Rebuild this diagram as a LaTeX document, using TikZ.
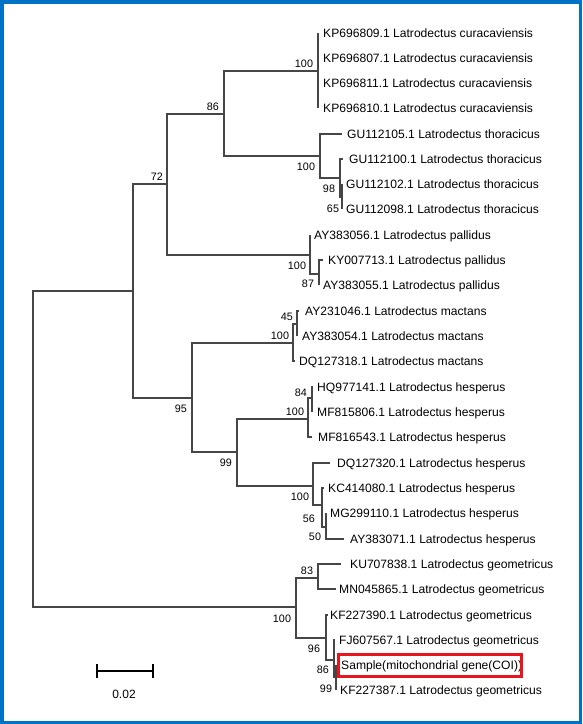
\documentclass[tikz,border=0pt]{standalone}
\usepackage{fontspec}
\setmainfont{Liberation Sans}
\definecolor{frameblue}{RGB}{0,114,198}
\definecolor{boxred}{RGB}{232,20,30}
\definecolor{branchgray}{RGB}{70,70,70}
\begin{document}
\begin{tikzpicture}[x=1pt,y=-1pt,
  br/.style={draw=branchgray,line width=1.1pt},
  leaf/.style={anchor=base west,inner sep=0pt,yshift=-4.3pt,font=\fontsize{12.1}{14}\selectfont,text=black},
  bs/.style={anchor=center,inner sep=0pt,font=\fontsize{10.8}{12}\selectfont,text=black}]
\useasboundingbox (0,0) rectangle (582,724);
\fill[white] (0,0) rectangle (582,724);
\draw[frameblue,line width=3.5pt] (1.75,1.75) rectangle (580.25,722.25);

% internal nodes
\coordinate (root) at (33,449);
\coordinate (nA) at (133,291);
\coordinate (n72) at (167,184);
\coordinate (n86) at (224,114);
\coordinate (nCur) at (318,71);
\coordinate (nThor) at (320,156);
\coordinate (n98) at (340,178);
\coordinate (n65) at (342,197);
\coordinate (nPal) at (310,255);
\coordinate (n87) at (319,274);
\coordinate (n95) at (192,398);
\coordinate (nMac) at (293,343);
\coordinate (n45) at (297,324);
\coordinate (n99) at (237,452);
\coordinate (nH1) at (308,419);
\coordinate (n84) at (312,398);
\coordinate (nH2) at (313,486);
\coordinate (n56) at (322,505);
\coordinate (n50) at (326,527);
\coordinate (nGeo) at (296,607);
\coordinate (n83) at (318,578);
\coordinate (n96) at (326,638);
\coordinate (n86b) at (334,660);
\coordinate (n99b) at (336,677);

% tips
\coordinate (t1) at (318,33);
\coordinate (t2) at (318,58);
\coordinate (t3) at (318,83);
\coordinate (t4) at (318,108);
\coordinate (t5) at (342,134);
\coordinate (t6) at (343,159);
\coordinate (t7) at (342,184);
\coordinate (t8) at (342,209);
\coordinate (t9) at (310,235);
\coordinate (t10) at (323,260);
\coordinate (t11) at (319,285);
\coordinate (t12) at (299,311);
\coordinate (t13) at (297,336);
\coordinate (t14) at (295,361);
\coordinate (t15) at (313,387);
\coordinate (t16) at (312,412);
\coordinate (t17) at (312,437);
\coordinate (t18) at (330,463);
\coordinate (t19) at (324,488);
\coordinate (t20) at (326,513);
\coordinate (t21) at (344,539);
\coordinate (t22) at (341,564);
\coordinate (t23) at (336,589);
\coordinate (t24) at (328,615);
\coordinate (t25) at (335,640);
\coordinate (t26) at (336,665);
\coordinate (t27) at (336,690);

% leaf labels
\node[leaf] (l1) at (323,33) {KP696809.1 Latrodectus curacaviensis};
\node[leaf] (l2) at (323,58) {KP696807.1 Latrodectus curacaviensis};
\node[leaf] (l3) at (323,83) {KP696811.1 Latrodectus curacaviensis};
\node[leaf] (l4) at (323,108) {KP696810.1 Latrodectus curacaviensis};
\node[leaf] (l5) at (347,134) {GU112105.1 Latrodectus thoracicus};
\node[leaf] (l6) at (349,159) {GU112100.1 Latrodectus thoracicus};
\node[leaf] (l7) at (346,184) {GU112102.1 Latrodectus thoracicus};
\node[leaf] (l8) at (346,209) {GU112098.1 Latrodectus thoracicus};
\node[leaf] (l9) at (314,235) {AY383056.1 Latrodectus pallidus};
\node[leaf] (l10) at (328,260) {KY007713.1 Latrodectus pallidus};
\node[leaf] (l11) at (323,285) {AY383055.1 Latrodectus pallidus};
\node[leaf] (l12) at (305,311) {AY231046.1 Latrodectus mactans};
\node[leaf] (l13) at (302,336) {AY383054.1 Latrodectus mactans};
\node[leaf] (l14) at (299,361) {DQ127318.1 Latrodectus mactans};
\node[leaf] (l15) at (317,387) {HQ977141.1 Latrodectus hesperus};
\node[leaf] (l16) at (317,412) {MF815806.1 Latrodectus hesperus};
\node[leaf] (l17) at (318,437) {MF816543.1 Latrodectus hesperus};
\node[leaf] (l18) at (337,463) {DQ127320.1 Latrodectus hesperus};
\node[leaf] (l19) at (328,488) {KC414080.1 Latrodectus hesperus};
\node[leaf] (l20) at (330,513) {MG299110.1 Latrodectus hesperus};
\node[leaf] (l21) at (350,539) {AY383071.1 Latrodectus hesperus};
\node[leaf] (l22) at (350,564) {KU707838.1 Latrodectus geometricus};
\node[leaf] (l23) at (339,589) {MN045865.1 Latrodectus geometricus};
\node[leaf] (l24) at (330,615) {KF227390.1 Latrodectus geometricus};
\node[leaf] (l25) at (339,640) {FJ607567.1 Latrodectus geometricus};
\node[leaf] (l26) at (341,665) {Sample(mitochondrial gene(COI))};
\node[leaf] (l27) at (340,690) {KF227387.1 Latrodectus geometricus};
\node[draw=boxred,line width=2.8pt,minimum width=183pt,minimum height=22.5pt,inner sep=0pt] (hl) at (430,665.5) {};

% branches
\path[br] (root) |- (nA) (root) |- (nGeo);
\path[br] (nA) |- (n72) (nA) |- (n95);
\path[br] (n72) |- (n86) (n72) |- (nPal);
\path[br] (n86) |- (nCur) (n86) |- (nThor);
\path[br] (nCur) |- (t1) (nCur) |- (t2) (nCur) |- (t3) (nCur) |- (t4);
\path[br] (nThor) |- (t5) (nThor) |- (n98);
\path[br] (n98) |- (t6) (n98) |- (n65);
\path[br] (n65) |- (t7) (n65) |- (t8);
\path[br] (nPal) |- (t9) (nPal) |- (n87);
\path[br] (n87) |- (t10) (n87) |- (t11);
\path[br] (n95) |- (nMac) (n95) |- (n99);
\path[br] (nMac) |- (n45) (nMac) |- (t14);
\path[br] (n45) |- (t12) (n45) |- (t13);
\path[br] (n99) |- (nH1) (n99) |- (nH2);
\path[br] (nH1) |- (n84) (nH1) |- (t17);
\path[br] (n84) |- (t15) (n84) |- (t16);
\path[br] (nH2) |- (t18) (nH2) |- (n56);
\path[br] (n56) |- (t19) (n56) |- (n50);
\path[br] (n50) |- (t20) (n50) |- (t21);
\path[br] (nGeo) |- (n83) (nGeo) |- (n96);
\path[br] (n83) |- (t22) (n83) |- (t23);
\path[br] (n96) |- (t24) (n96) |- (n86b);
\path[br] (n86b) |- (t25) (n86b) |- (n99b);
\path[br] (n99b) |- (t26) (n99b) |- (t27);

% bootstrap values
\node[bs] (b72) at (157,177) {72};
\node[bs] (b86) at (213,107) {86};
\node[bs] (bCur) at (304,64) {100};
\node[bs] (bThor) at (306,167) {100};
\node[bs] (b98) at (329,189) {98};
\node[bs] (b65) at (333,209) {65};
\node[bs] (bPal) at (297,266) {100};
\node[bs] (b87) at (308,284) {87};
\node[bs] (b95) at (181,409) {95};
\node[bs] (bMac) at (280,336) {100};
\node[bs] (b45) at (287,317) {45};
\node[bs] (b99) at (226,463) {99};
\node[bs] (bH1) at (295,412) {100};
\node[bs] (b84) at (301,393) {84};
\node[bs] (bH2) at (300,497) {100};
\node[bs] (b56) at (309,519) {56};
\node[bs] (b50) at (315,537) {50};
\node[bs] (bGeo) at (282,619) {100};
\node[bs] (b83) at (307,571) {83};
\node[bs] (b96) at (314,649) {96};
\node[bs] (b86b) at (323,670) {86};
\node[bs] (b99b) at (326,689) {99};

% scale bar
\coordinate (sb1) at (97,671);
\coordinate (sb2) at (153,671);
\draw[line width=2.8pt] (sb1) -- (sb2);
\draw[line width=2.8pt] ([yshift=7pt]sb1) -- ([yshift=-7pt]sb1);
\draw[line width=2.8pt] ([yshift=7pt]sb2) -- ([yshift=-7pt]sb2);
\node[anchor=center,inner sep=0pt,font=\fontsize{12}{14}\selectfont,text=black] (sbl) at (124,694) {0.02};
\end{tikzpicture}
\end{document}
